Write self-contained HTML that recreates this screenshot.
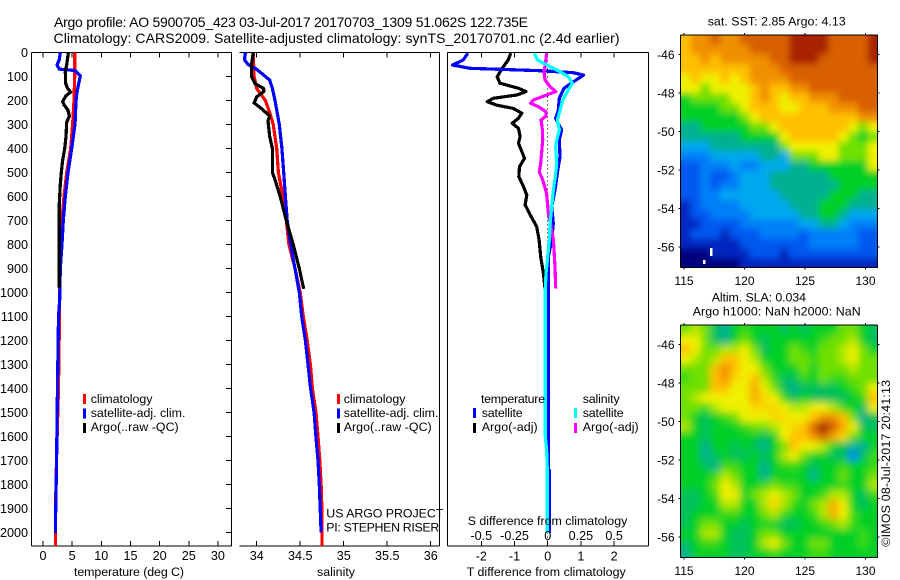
<!DOCTYPE html>
<html lang="en">
<head>
<meta charset="utf-8">
<title>Argo profile 5900705_423</title>
<style>
html,body{margin:0;padding:0;background:#fff;width:900px;height:580px;overflow:hidden}
svg{display:block}
text{font-family:"Liberation Sans",sans-serif;font-size:12.4px;fill:#000}
.ttl{font-size:14px}
.ax{stroke:#000;stroke-width:1;fill:none;shape-rendering:crispEdges}
.ln{fill:none;stroke-width:3.2;stroke-linejoin:round;shape-rendering:crispEdges}
</style>
</head>
<body>
<svg id="fig" xmlns="http://www.w3.org/2000/svg" width="900" height="580" viewBox="0 0 900 580">
<defs>
<clipPath id="clipA"><rect x="681" y="35" width="197" height="233"/></clipPath>
<clipPath id="clipB"><rect x="681" y="325" width="197" height="233"/></clipPath>
<filter id="blurA" filterUnits="userSpaceOnUse" x="650" y="0" width="250" height="300"><feGaussianBlur stdDeviation="3.5"/></filter>
<filter id="blurB" filterUnits="userSpaceOnUse" x="650" y="290" width="250" height="290"><feGaussianBlur stdDeviation="4"/></filter>
</defs>

<text class="ttl" x="54" y="27" textLength="474">Argo profile: AO 5900705_423 03-Jul-2017 20170703_1309 51.062S 122.735E</text>
<text class="ttl" x="53.5" y="43" textLength="566">Climatology: CARS2009. Satellite-adjusted climatology: synTS_20170701.nc (2.4d earlier)</text>

<g id="p1"></g>
<g id="p2"></g>
<g id="p3"></g>

<text x="74" y="576" textLength="110">temperature (deg C)</text>
<text x="317" y="576" textLength="38">salinity</text>
<text x="466.7" y="576" textLength="159">T difference from climatology</text>
<text x="467.7" y="525" textLength="159.6">S difference from climatology</text>

<g>
<rect x="83" y="394" width="3" height="10" fill="#f00"/>
<rect x="83" y="408.5" width="3" height="10" fill="#00f"/>
<rect x="83" y="423" width="3" height="10" fill="#000"/>
<text x="90.7" y="403" textLength="61.7">climatology</text>
<text x="90.7" y="417" textLength="94.7">satellite-adj. clim.</text>
<text x="90.7" y="431" textLength="88">Argo(..raw -QC)</text>
</g>
<g>
<rect x="337" y="394" width="3" height="10" fill="#f00"/>
<rect x="337" y="408.5" width="3" height="10" fill="#00f"/>
<rect x="337" y="423" width="3" height="10" fill="#000"/>
<text x="343.7" y="403" textLength="61.7">climatology</text>
<text x="343.7" y="417" textLength="94.7">satellite-adj. clim.</text>
<text x="343.7" y="431" textLength="88">Argo(..raw -QC)</text>
</g>
<text x="326.3" y="517.3" textLength="117">US ARGO PROJECT</text>
<text x="326.3" y="531.3" textLength="113">PI: STEPHEN RISER</text>

<g>
<text x="481" y="403" textLength="64">temperature</text>
<text x="582.7" y="403" textLength="37">salinity</text>
<rect x="473" y="408" width="3" height="10" fill="#00f"/>
<rect x="473" y="423" width="3" height="10" fill="#000"/>
<rect x="574" y="408" width="3" height="10" fill="#0ff"/>
<rect x="574" y="423" width="3" height="10" fill="#f0f"/>
<text x="481.7" y="417" textLength="41">satellite</text>
<text x="481.7" y="431" textLength="56">Argo(-adj)</text>
<text x="582.7" y="417" textLength="41">satellite</text>
<text x="582.7" y="431" textLength="56">Argo(-adj)</text>
</g>

<text x="707.7" y="25.3" textLength="138">sat. SST: 2.85 Argo: 4.13</text>
<text x="711.7" y="301.3" textLength="94.3">Altim. SLA: 0.034</text>
<text x="692.7" y="315.7" textLength="168">Argo h1000: NaN h2000: NaN</text>
<g id="m1"></g>
<g id="m2"></g>
<rect x="710" y="248" width="2.5" height="8" fill="#fff"/>
<rect x="703" y="260" width="2.5" height="4" fill="#fff"/>
<text transform="translate(890,546.7) rotate(-90)" x="0" y="0" textLength="166.7">©IMOS 08-Jul-2017 20:41:13</text>
</svg>

<script>
/* ---------- temperature panel data ---------- */
var tempTicks = [0,5,10,15,20,25,30];
var depthTicks = [0,100,200,300,400,500,600,700,800,900,1000,1100,1200,1300,1400,1500,1600,1700,1800,1900,2000];
var tempClimDepth = [0,100,200,300,400,500,600,700,800,900,1000,1100,1390,1700,1900,2056];
var tempClim = [5.43,5.43,5.31,5.08,4.75,4.06,3.6,3.26,3.09,2.92,2.83,2.83,2.66,2.32,2.15,2.15];
var tempSatDepth = [0,30,52,69,75,98,156,200,300,400,500,600,700,800,900,1031,1100,1385,1726,1976,2003];
var tempSat = [2.97,2.8,2.4,2.8,5.49,6.4,5.9,5.66,5.49,4.92,4.29,3.83,3.49,3.26,2.97,2.86,2.66,2.49,2.32,2.12,2.12];
var tempArgoDepth = [0,50,80,130,150,165,180,205,220,240,265,290,350,400,450,500,550,630,800,980];
var tempArgo = [4.35,4.06,3.83,3.89,4.23,4.75,3.95,3.37,3.66,4.29,4.52,4.06,3.95,3.72,3.37,3.14,2.97,2.8,2.8,2.8];

/* ---------- salinity panel data ---------- */
var salTicks = [34,34.5,35,35.5,36];
var salClimDepth = [0,100,150,200,250,300,400,500,600,700,800,900,1000,1100,1200,1300,1400,1500,1600,1700,1800,1900,2056];
var salClim = [33.96,33.97,34.0,34.10,34.15,34.19,34.23,34.25,34.30,34.34,34.37,34.44,34.50,34.536,34.58,34.617,34.64,34.682,34.705,34.725,34.74,34.75,34.75];
var salSatDepth = [0,30,50,70,115,150,200,300,400,500,600,700,800,900,1000,1100,1200,1300,1400,1500,1600,1700,1800,1900,2000];
var salSat = [33.87,33.86,33.90,34.0,34.15,34.18,34.21,34.26,34.29,34.31,34.33,34.35,34.39,34.44,34.49,34.517,34.56,34.59,34.62,34.66,34.68,34.705,34.72,34.73,34.74];
var salArgoDepth = [0,50,100,130,150,163,185,210,235,265,285,350,400,500,530,600,700,800,900,985];
var salArgo = [33.96,33.94,33.94,33.98,34.08,34.08,34.0,33.97,34.06,34.15,34.13,34.15,34.18,34.18,34.21,34.27,34.34,34.42,34.49,34.54];

/* ---------- difference panel data ---------- */
var tDiffTicks = [-2,-1,0,1,2];
var sDiffTicks = [-0.5,-0.25,0,0.25,0.5];
var sDiffLabels = ['-0.5','-0.25','0','0.25','0.5'];
var dtSatDepth = [3,31,52,66,76,84,94,122,149,191,240,274,323,365,434,503,573,642,712,781,851,920,1031,1740,1741,2002];
var dtSat = [-2.41,-2.54,-2.87,-2.34,-0.23,0.77,1.08,0.77,0.49,0.35,0.32,0.24,0.42,0.35,0.37,0.29,0.22,0.12,0.17,0.12,0.02,0.02,0.02,0.02,0.05,0.05];
var dtArgoDepth = [3,31,66,101,128,149,163,177,191,205,219,233,253,274,295,316,351,378,441,476,517,559,594,635,670,726,781,851,920,983];
var dtArgo = [-1.11,-1.19,-1.37,-1.52,-1.44,-0.88,-0.65,-0.93,-1.64,-1.82,-1.54,-1.04,-0.78,-0.88,-1.07,-0.88,-0.83,-0.88,-0.70,-0.85,-0.87,-0.73,-0.63,-0.68,-0.55,-0.33,-0.26,-0.21,-0.13,-0.08];
var dsSatDepth = [3,31,59,80,101,128,156,198,240,281,323,365,392,462,503,573,642,712,781,851,920,990,1031,1600,1656,1740,2002];
var dsSat = [-0.10,-0.078,0.018,0.093,0.156,0.186,0.156,0.113,0.093,0.073,0.088,0.068,0.06,0.068,0.06,0.043,0.03,0.018,0.013,0,-0.013,-0.018,-0.018,-0.018,-0.008,-0.003,-0.003];
var dsArgoDepth = [3,52,80,115,142,163,177,198,212,226,247,265,281,323,365,462,497,531,587,670,781,892,983];
var dsArgo = [-0.008,-0.018,-0.028,-0.02,0.018,0.06,-0.008,-0.108,-0.128,-0.07,-0.013,-0.013,-0.05,-0.04,-0.038,-0.053,-0.063,-0.038,-0.008,0.005,0.043,0.055,0.06];

/* ---------- map data ---------- */
var lonTicks = [115,120,125,130];
var latTicks = [-46,-48,-50,-52,-54,-56];
var sstGrid = [
[9,10,10,11,10,10,11,11,11,11,11,12,12,12,12,11,11,11,11,12],
[9,10,10,10,10,10,10,11,11,11,11,12,12,12,12,11,11,11,11,12],
[9,9,10,9,10,10,10,10,10,11,11,12,12,12,11,11,11,11,11,12],
[9,9,9,9,9,9,9,10,10,10,11,11,11,11,11,11,11,11,11,11],
[8,9,8,8,9,8,9,10,10,10,10,11,11,11,11,11,11,11,11,11],
[8,8,7,8,8,8,8,9,10,9,9,10,10,11,11,11,11,11,11,11],
[6,7,7,7,7,8,8,9,10,9,8,9,9,10,10,10,11,11,11,11],
[6,6,6,6,7,7,8,9,9,9,8,8,9,9,9,10,10,10,11,11],
[6,6,6,6,6,6,7,8,9,9,9,9,9,9,9,9,9,9,10,10],
[5,5,6,6,6,6,6,7,7,8,9,9,9,9,9,9,9,8,7,8],
[5,5,5,5,5,5,6,6,6,6,8,9,9,9,9,9,8,7,6,7],
[4,4,4,5,5,5,5,5,5,5,7,8,8,8,8,8,7,7,7,8],
[3,3,3,4,4,4,4,4,5,5,4,7,7,7,8,8,7,7,7,8],
[2,2,3,3,3,4,3,3,4,4,4,5,5,6,6,6,6,6,6,8],
[2,2,3,2,2,3,4,4,4,5,5,5,5,5,5,6,6,6,6,6],
[2,2,3,2,3,3,4,4,4,5,5,5,5,5,5,5,6,6,6,6],
[2,2,3,3,4,4,4,4,4,4,5,5,5,5,5,6,6,6,5,5],
[1,2,3,3,3,3,4,4,4,4,4,5,5,5,6,6,6,5,5,5],
[1,2,2,3,3,3,3,4,4,4,4,4,5,5,6,6,5,4,4,4],
[1,1,2,2,2,2,3,3,3,3,3,3,4,4,5,5,4,3,3,3],
[1,2,2,2,1,2,2,2,3,3,3,3,2,3,3,3,3,3,2,2],
[1,1,1,1,1,1,2,2,2,2,2,2,2,3,3,3,3,3,2,2],
[0,0,0,1,1,1,1,2,2,2,1,2,2,2,2,2,2,2,2,2],
[0,0,0,0,0,0,1,1,1,1,1,1,1,1,1,1,1,1,1,1]
];
var slaGrid = [
[7,7.5,7,5.5,5,6,6.5,6,6,6,5.5,6,5.5,6,6,6,7,7,6,5.5],
[8,8,7,5.5,5,6,7,6,5.5,6,6,6,6,6,6.5,7,7,7.5,6,5.5],
[9,8,7,7,7.5,7.5,8,7,5.5,6,6,7,6.5,6,7,7,7.5,8,7,6],
[8,7.5,7,7.5,9,9,8,7.5,6,6,6,7,7,6.5,7,7,7.5,8,7,7],
[7,7,7,9,10,9,8,8,7,6,6,6,7,6,7,7,7,7.5,7,7],
[6.5,7,7,9,10,8.5,8,9,7.5,6.5,5.5,5.5,6.5,6,7,6.5,6.5,7,7,7],
[7,7,7,9,9,8,8,9.5,8,7,5.5,5,5.5,5.5,5.5,5.5,6,6.5,7,8],
[7,7.5,8,8,8,8,8,9.5,8.5,8,6.5,5.5,6,5.5,5.5,5.5,5.5,6,6.5,9],
[7,7,6.5,7.5,8,8,8,8.5,8.5,8.5,8,7.5,7.5,8,8,7.5,6.5,6,5.5,8],
[7,6,5.5,6,6.5,7,8,8,8,8.5,8.5,8,8,9,10,10,9,7,5,5.5],
[7.5,6,5.5,6,6,6,6.5,7,7,7.5,8,8.5,9,11,12.5,11,9.5,8,5.5,5.5],
[6,6,5.5,6,6,6,6,6,5.5,6,8,9,9,10,11,9.5,8.5,7,6,6],
[6,6,5,6,6,5.5,6,5.5,5,6,7,9,8,8,7.5,6,5.5,5,5,6],
[6,6,5,5.5,6,5.5,5.5,6,5.5,6,7.5,8,7,6,6,5.5,5.5,3,5.5,6.5],
[6,6,5.5,5,6.5,6.5,6,6,5,6,6.5,6.5,6,5.5,6,6,6.5,6,6,6.5],
[6,6,6,6.5,7.5,7,6,6,5,6,6,6,6,5,6,6,7,6,6,7],
[6,6,6,7,8,7.5,6,6,6.5,7,6.5,6.5,6,6,6,6,6.5,6,6,7.5],
[5.5,5.5,6,6.5,8,8,6,7,7.5,8,7.5,7,6,6,6.5,7.5,7.5,6,5.5,6.5],
[5.5,5.5,6,6,7.5,7.5,6,6,7.5,8.5,7.5,6.5,6,7,7.5,9.5,8,6,5.5,6],
[5.5,6,6,6,6.5,6.5,6,6,7,7.5,6.5,6,6,6.5,7.5,9.5,8,6.5,6,6],
[5.5,6,7,7,6,6,5.5,6,6,6,5.5,5.5,6,6,6.5,7,7.5,6.5,6,6],
[6,6,7.5,7.5,6,5.5,5.5,6,7,7,6,6,6,6,6,6,6,6,6.5,6],
[5.5,6,6.5,6.5,6,5.5,5.5,6,7.5,8,7,6,6,7,7,6,6,6,6.5,6],
[5,6,6,6,6,5.5,5.5,6,6,6.5,6,6,6,6.5,6.5,6,6,6,6,6]
];
var colormap = ['#00007f','#0028c0','#0058f0','#0080f8','#00a8f0','#00b090','#00d028','#70e000','#f0f000','#ffc000','#f09000','#d86000','#a82000','#800808'];

/* ---------- axis functions ---------- */
var NS = 'http://www.w3.org/2000/svg';
var plotTop = 52.5, plotBottom = 546;
function yDepth(d){ return plotTop + d * 0.24; }
function xTemp(t){ return 43 + t * 5.83; }
function xSal(s){ return 256.7 + (s - 34) * 87; }
function xDT(t){ return 547.7 + t * 33.2; }
function xDS(s){ return 547.7 + s * 132.8; }
function xLon(lon){ return 684 + (lon - 115) * 12.1; }
function yLat(lat, top){ return top + 19.3 + (-46 - lat) * 19.27; }

function mk(parent, tag, attrs, txt){
  var el = document.createElementNS(NS, tag);
  for (var k in attrs) el.setAttribute(k, attrs[k]);
  if (txt !== undefined) el.textContent = txt;
  parent.appendChild(el);
  return el;
}
function axisLine(parent, name, x1, y1, x2, y2){
  var el = mk(parent, 'line', {x1:x1, y1:y1, x2:x2, y2:y2, 'class':'ax'});
  
  
}
function label(parent, name, x, y, s, anchor, size){
  var el = mk(parent, 'text', {x:x, y:y, 'text-anchor':anchor, style:'font-size:'+size+'px'}, s);
  
  
}
function profile(parent, name, color, depths, values, xf){
  var pts = depths.map(function(d, i){ return xf(values[i]).toFixed(1) + ',' + yDepth(d).toFixed(1); }).join(' ');
  var el = mk(parent, 'polyline', {points:pts, stroke:color, 'class':'ln'});
  
  
}
function frame(parent, x0, x1, hasLeft){
  axisLine(parent, 'top-border', x0, plotTop, x1, plotTop);
  axisLine(parent, 'bottom-border', x0, plotBottom, x1, plotBottom);
  axisLine(parent, 'right-border', x1, plotTop, x1, plotBottom);
  if (hasLeft) axisLine(parent, 'left-border', x0, plotTop, x0, plotBottom);
}

/* temperature panel */
var p1 = document.getElementById('p1');
frame(p1, 31.7, 231.3, true);
tempTicks.forEach(function(t){
  var x = xTemp(t);
  axisLine(p1, 'temperature-tick-top', x, plotTop, x, plotTop + 5);
  axisLine(p1, 'temperature-tick-bottom', x, plotBottom - 5, x, plotBottom);
  label(p1, 'temperature-tick-label', x, 560, String(t), 'middle', 12.6);
});
depthTicks.forEach(function(d){
  var y = yDepth(d);
  axisLine(p1, 'depth-tick', 226, y, 231.3, y);
  label(p1, 'depth-tick-label', 28, y + 4.5, String(d), 'end', 12.6);
});
profile(p1, 'temperature-climatology-line', '#f00', tempClimDepth, tempClim, xTemp);
profile(p1, 'temperature-satellite-line', '#00f', tempSatDepth, tempSat, xTemp);
profile(p1, 'temperature-argo-line', '#000', tempArgoDepth, tempArgo, xTemp);

/* salinity panel */
var p2 = document.getElementById('p2');
frame(p2, 239.3, 439.5, false);
salTicks.forEach(function(s){
  var x = xSal(s);
  axisLine(p2, 'salinity-tick-top', x, plotTop, x, plotTop + 5);
  axisLine(p2, 'salinity-tick-bottom', x, plotBottom - 5, x, plotBottom);
  label(p2, 'salinity-tick-label', x, 560, String(s), 'middle', 12.6);
});
profile(p2, 'salinity-climatology-line', '#f00', salClimDepth, salClim, xSal);
profile(p2, 'salinity-satellite-line', '#00f', salSatDepth, salSat, xSal);
profile(p2, 'salinity-argo-line', '#000', salArgoDepth, salArgo, xSal);

/* difference panel */
var p3 = document.getElementById('p3');
frame(p3, 447.5, 648.3, true);
tDiffTicks.forEach(function(t){
  var x = xDT(t);
  axisLine(p3, 'difference-tick-top', x, plotTop, x, plotTop + 5);
  axisLine(p3, 'difference-tick-bottom', x, plotBottom - 5, x, plotBottom);
  label(p3, 't-difference-tick-label', x, 560.7, String(t), 'middle', 12.6);
});
var zeroLine = mk(p3, 'line', {x1:xDT(0), y1:plotTop, x2:xDT(0), y2:plotBottom, stroke:'#000', 'stroke-width':1, 'stroke-dasharray':'1 3', 'shape-rendering':'crispEdges'});


profile(p3, 't-diff-argo-line', '#000', dtArgoDepth, dtArgo, xDT);
profile(p3, 't-diff-satellite-line', '#00f', dtSatDepth, dtSat, xDT);
profile(p3, 's-diff-argo-line', '#f0f', dsArgoDepth, dsArgo, xDS);
profile(p3, 's-diff-satellite-line', '#0ff', dsSatDepth, dsSat, xDS);
sDiffTicks.forEach(function(s, i){
  label(p3, 's-difference-tick-label', xDS(s), 540, sDiffLabels[i], 'middle', 12.6);
});

/* maps */
function colorFor(v){
  var i = Math.max(0, Math.min(colormap.length - 2, Math.floor(v)));
  var f = Math.max(0, Math.min(1, v - i));
  var a = colormap[i], b = colormap[i + 1], out = '#';
  for (var c = 1; c < 7; c += 2){
    var p = parseInt(a.substr(c, 2), 16), q = parseInt(b.substr(c, 2), 16);
    var n = Math.round(p + (q - p) * f).toString(16);
    out += (n.length < 2 ? '0' : '') + n;
  }
  return out;
}
function drawMap(parent, name, grid, top, clipId, filterId){
  var left = 680.7, right = 877.7, h = 232.7, bottom = top + h;
  var rows = grid.length, cols = grid[0].length;
  var clipG = mk(parent, 'g', {'clip-path':'url(#' + clipId + ')'});
  
  
  var blurG = mk(clipG, 'g', {filter:'url(#' + filterId + ')'});
  
  
  grid.forEach(function(row, r){
    row.forEach(function(v, c){
      var x = left + (right - left) * c / cols;
      var y = top + h * r / rows;
      var w = (right - left) / cols + 0.5;
      var hh = h / rows + 0.5;
      if (c === 0){ x -= 15; w += 15; }
      if (c === cols - 1){ w += 15; }
      if (r === 0){ y -= 15; hh += 15; }
      if (r === rows - 1){ hh += 15; }
      var cell = mk(blurG, 'rect', {x:x.toFixed(1), y:y.toFixed(1), width:w.toFixed(1), height:hh.toFixed(1), fill:colorFor(v)});
      
      
    });
  });
  axisLine(parent, name + '-top-border', left, top, right, top);
  axisLine(parent, name + '-bottom-border', left, bottom, right, bottom);
  axisLine(parent, name + '-left-border', left, top, left, bottom);
  axisLine(parent, name + '-right-border', right, top, right, bottom);
  lonTicks.forEach(function(lon){
    var x = xLon(lon);
    axisLine(parent, name + '-lon-tick-top', x, top - 2, x, top);
    axisLine(parent, name + '-lon-tick-bottom', x, bottom, x, bottom + 2);
    label(parent, name + '-lon-label', x, bottom + 17.5, String(lon), 'middle', 12);
  });
  latTicks.forEach(function(lat){
    var y = yLat(lat, top);
    axisLine(parent, name + '-lat-tick-left', left - 2, y, left, y);
    axisLine(parent, name + '-lat-tick-right', right, y, right + 2, y);
    label(parent, name + '-lat-label', 674.5, y + 4.5, String(lat), 'end', 12);
  });
}
drawMap(document.getElementById('m1'), 'sst-map', sstGrid, 35, 'clipA', 'blurA');
drawMap(document.getElementById('m2'), 'sla-map', slaGrid, 325, 'clipB', 'blurB');
</script>
</body>
</html>
